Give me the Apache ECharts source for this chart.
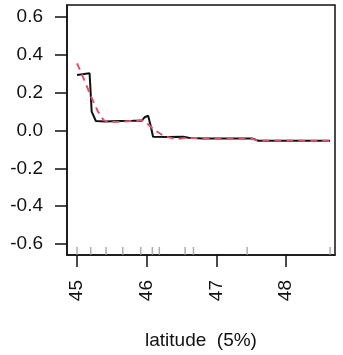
<!DOCTYPE html>
<html>
<head>
<meta charset="utf-8">
<script src="https://cdn.jsdelivr.net/npm/echarts@6/dist/echarts.min.js"></script>
<style>html,body{margin:0;padding:0;background:#fff;}#c{width:343px;height:355px;}</style>
</head>
<body>
<div id="c"></div>
<script>
// Data
var blackX = [45.00, 45.18, 45.21, 45.27, 45.40, 45.60, 45.80, 45.93, 45.97, 46.02, 46.06, 46.09, 46.30, 46.52, 46.60, 46.80, 47.20, 47.51, 47.60, 48.63];
var blackY = [0.293, 0.302, 0.100, 0.050, 0.048, 0.050, 0.051, 0.052, 0.070, 0.078, 0.020, -0.033, -0.035, -0.033, -0.038, -0.042, -0.042, -0.042, -0.054, -0.054];
var redX = [45.00, 45.10, 45.20, 45.30, 45.38, 45.45, 45.60, 45.80, 45.93, 46.00, 46.10, 46.25, 46.42, 46.55, 46.70, 47.00, 47.50, 47.60, 48.63];
var redY = [0.355, 0.27, 0.18, 0.10, 0.055, 0.045, 0.046, 0.050, 0.055, 0.040, 0.005, -0.030, -0.046, -0.040, -0.040, -0.042, -0.043, -0.053, -0.054];
var rugX = [45.00, 45.196, 45.416, 45.656, 45.914, 46.08, 46.18, 46.55, 46.67, 47.44, 48.63];
var xTicks = [45, 46, 47, 48];
var yTicks = [-0.6, -0.4, -0.2, 0.0, 0.2, 0.4, 0.6];
var xLabel = 'latitude  (5%)';

// axis extents in thousandths (integers keep the tick grid exact)
var xMinK = 44856, xMaxK = 48700, xStepK = 4;
var yMinK = -658, yMaxK = 663, yStepK = 1;
var xMin = xMinK / 1000, xMax = xMaxK / 1000, yMin = yMinK / 1000, yMax = yMaxK / 1000;

function pairs(xs, ys) { return xs.map(function (x, i) { return [x, ys[i]]; }); }
function grid(a, b, s) { var out = []; for (var k = a; k <= b; k += s) out.push(k); return out; }
var xGridK = grid(xMinK, xMaxK, xStepK);
var yGridK = grid(yMinK, yMaxK, yStepK);
var xTickK = xTicks.map(function (v) { return Math.round(v * 1000); });
var yTickK = yTicks.map(function (v) { return Math.round(v * 1000); });

var font = 'Liberation Sans, Arial, sans-serif';
var tickLen = 12;
var tickLine = { color: '#111', width: 1.5 };
var chart = echarts.init(document.getElementById('c'), null, { renderer: 'canvas' });
chart.setOption({
  animation: false,
  grid: { left: 67, right: 8, top: 5, bottom: 100, show: true, borderColor: '#111', borderWidth: 1.5, backgroundColor: 'transparent' },
  xAxis: [{
    type: 'value', min: xMin, max: xMax, position: 'bottom',
    splitLine: { show: false },
    axisLine: { show: true, onZero: false, lineStyle: { color: '#111', width: 1.5 } },
    axisTick: { show: false },
    axisLabel: { customValues: xTicks, rotate: 90, margin: 25, fontSize: 19, fontFamily: font, color: '#111',
      formatter: function (v) { return String(Math.round(v)); } }
  }, {
    // tick-mark helper axis on the same span
    type: 'category', position: 'bottom', offset: 0, boundaryGap: false,
    data: xGridK.map(String),
    axisLine: { show: false, onZero: false },
    axisLabel: { show: false },
    splitLine: { show: false },
    axisTick: { show: true, length: tickLen, lineStyle: tickLine,
      interval: function (idx) { return xTickK.indexOf(xGridK[idx]) >= 0; } }
  }],
  yAxis: [{
    type: 'value', min: yMin, max: yMax, position: 'left',
    splitLine: { show: false },
    axisLine: { show: true, onZero: false, lineStyle: { color: '#111', width: 1.5 } },
    axisTick: { show: false },
    axisLabel: { customValues: yTicks, margin: 24, fontSize: 19, fontFamily: font, color: '#111',
      formatter: function (v) { var r = Math.round(v * 10) / 10; if (Math.abs(r) < 1e-9) r = 0; return r.toFixed(1); } }
  }, {
    type: 'category', position: 'left', offset: 0, boundaryGap: false,
    data: yGridK.map(String),
    axisLine: { show: false, onZero: false },
    axisLabel: { show: false },
    splitLine: { show: false },
    axisTick: { show: true, length: tickLen, lineStyle: tickLine,
      interval: function (idx) { return yTickK.indexOf(yGridK[idx]) >= 0; } }
  }],
  graphic: [{ type: 'text', left: 145, top: 331, style: { text: xLabel, fontSize: 19, fontFamily: font, fill: '#111' } }],
  series: [
    { type: 'scatter', xAxisIndex: 0, yAxisIndex: 0, data: rugX.map(function (x) { return [x, yMin]; }), symbol: 'rect', symbolSize: [1.5, 8], symbolOffset: [0, -4],
      itemStyle: { color: '#9a9a9a' }, z: 1, silent: true },
    { type: 'line', xAxisIndex: 0, yAxisIndex: 0, data: pairs(blackX, blackY), showSymbol: false, symbol: 'none',
      lineStyle: { color: '#111', width: 2 }, z: 2 },
    { type: 'line', xAxisIndex: 0, yAxisIndex: 0, data: pairs(redX, redY), showSymbol: false, symbol: 'none',
      lineStyle: { color: '#DF536B', width: 2, type: [7, 5] }, z: 3 }
  ]
});
</script>
</body>
</html>
